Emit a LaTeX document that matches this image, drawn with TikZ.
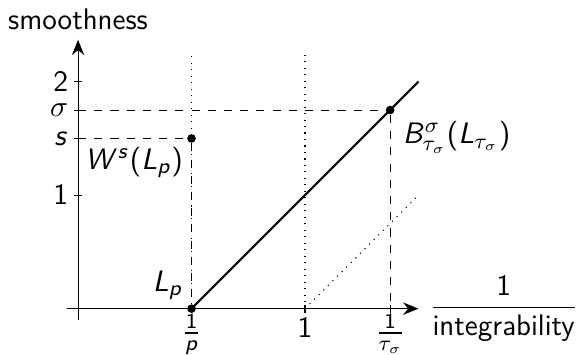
\documentclass[tikz,border=0pt]{standalone}
\usepackage{amsmath}
\usepackage{tikz}
\usetikzlibrary{arrows.meta,positioning}
% sans serif math as on slides
\DeclareSymbolFont{sfitalic}{OT1}{cmss}{m}{sl}
\SetSymbolFont{operators}{normal}{OT1}{cmss}{m}{n}
\DeclareMathSymbol{W}{\mathalpha}{sfitalic}{`W}
\DeclareMathSymbol{L}{\mathalpha}{sfitalic}{`L}
\DeclareMathSymbol{B}{\mathalpha}{sfitalic}{`B}
\DeclareMathSymbol{p}{\mathalpha}{sfitalic}{`p}
\DeclareMathSymbol{s}{\mathalpha}{sfitalic}{`s}

\begin{document}
\begin{tikzpicture}[
  x=84pt, y=42pt,
  font=\fontsize{11}{13}\selectfont\sffamily,
  axis/.style={-{Stealth[length=2mm, width=1.6mm]}},
  dot/.style={circle, fill, inner sep=0pt, minimum size=3.2pt},
  guide/.style={dashed},
  aux/.style={dotted}]

\useasboundingbox (-0.344,-0.404) rectangle (2.194,2.72);

% axes
\coordinate (xstart) at (-0.05,0);
\coordinate (xend) at (1.5,0);
\coordinate (ystart) at (0,-0.1);
\coordinate (yend) at (0,2.37);
\draw[axis] (xstart) -- (xend);
\draw[axis] (ystart) -- (yend);
\node[right=0.5pt of xend] (xlab) {$\dfrac{1}{\text{integrability}}$};
\node[above=0pt of yend] (ylab) {smoothness};

% ticks on the smoothness axis
\foreach \y/\lab/\name in {1/1/one, 1.5/s/s, 1.75/\sigma/sig, 2/2/two} {
  \coordinate (y\name) at (0,\y);
  \draw ([xshift=-1.5pt]y\name) -- ([xshift=1.5pt]y\name);
  \node[left, inner sep=2pt, xshift=-1.5pt] (ly\name) at (y\name) {$\lab$};
}

% ticks on the integrability axis
\coordinate (xp) at (0.5,0);
\coordinate (xone) at (1,0);
\coordinate (xtau) at (1.375,0);
\draw ([yshift=-1.5pt]xone) -- ([yshift=1.5pt]xone);
\draw ([yshift=-1.5pt]xtau) -- ([yshift=1.5pt]xtau);
\node[below, inner sep=2pt] (lxp) at (xp) {$\frac{1}{p}$};
\node[below] (lxone) at (xone) {$1$};
\node[below, inner sep=2pt] (lxtau) at (xtau) {$\frac{1}{\tau_\sigma}$};

% spaces
\node[dot] (Lp) at (0.5,0) {};
\node[dot] (W) at (0.5,1.5) {};
\node[dot] (B) at (1.375,1.75) {};
\coordinate (top) at (1.5,2);
\coordinate (ptop) at (0.5,2.24);
\coordinate (onetop) at (1,2.24);
\coordinate (dtop) at (1.5,1);

\draw[aux] (Lp) -- (ptop);
\draw[aux] (xone) -- (onetop);
\draw[aux] (xone) -- (dtop);
\draw[guide] (ys) -- (W);
\draw[guide] (W) -- (Lp);
\draw[guide] (ysig) -- (B);
\draw[guide] (B) -- (xtau);
\draw[thick] (Lp.center) -- (top);

\node[below left, inner sep=3pt] (lW) at (W) {$W^s(L_p)$};
\node[above left, inner sep=3pt] (lLp) at (Lp) {$L_p$};
\node[below right, inner sep=3pt, xshift=1.5pt, yshift=-1pt] (lB) at (B) {$B^\sigma_{\tau_\sigma}(L_{\tau_\sigma})$};
\end{tikzpicture}
\end{document}
